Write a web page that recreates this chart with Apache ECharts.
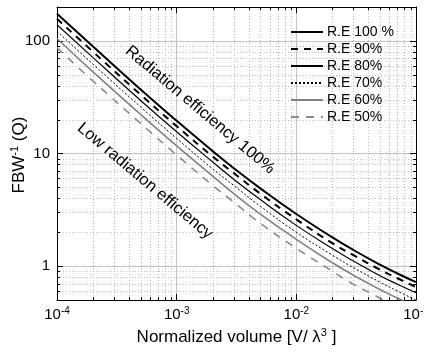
<!DOCTYPE html>
<html>
<head>
<meta charset="utf-8">
<script src="https://cdn.jsdelivr.net/npm/echarts@6/dist/echarts.min.js"></script>
<style>
  html, body { margin: 0; padding: 0; background: #fff; }
  #main { width: 424px; height: 354px; }
</style>
</head>
<body>
<div id="main"></div>
<script>
// normalized volume V/lambda^3
var volume = [1e-4, 2e-4, 5e-4, 1e-3, 2e-3, 3e-3, 5e-3, 1e-2, 2e-2, 3e-2, 5e-2, 7e-2, 1e-1];
// FBW^-1 (Q) per radiation efficiency
var re100 = [174, 89, 37, 19.5, 10.5, 7.4, 4.9, 2.9, 1.8, 1.39, 1.03, 0.86, 0.72];
var re90 = [157, 80, 33.3, 17.5, 9.4, 6.7, 4.4, 2.6, 1.6, 1.25, 0.93, 0.78, 0.65];
var re80 = [139, 71, 29.6, 15.6, 8.4, 5.9, 3.9, 2.3, 1.43, 1.11, 0.82, 0.69, 0.58];
var re70 = [122, 62, 25.9, 13.6, 7.3, 5.2, 3.4, 2.0, 1.25, 0.97, 0.72, 0.60, 0.50];
var re60 = [105, 53, 22.2, 11.7, 6.3, 4.4, 2.9, 1.73, 1.07, 0.83, 0.62, 0.52, 0.43];
var re50 = [87, 44, 18.5, 9.7, 5.2, 3.7, 2.4, 1.44, 0.9, 0.69, 0.52, 0.43, 0.36];
var names = ['R.E 100 %', 'R.E 90%', 'R.E 80%', 'R.E 70%', 'R.E 60%', 'R.E 50%'];

// axis range + minor grid values
var xMin = 1e-4, xMax = 1e-1;
var yMin = 0.5, yMax = 200;
var xMinor = [2e-4, 3e-4, 4e-4, 5e-4, 6e-4, 7e-4, 8e-4, 9e-4,
              2e-3, 3e-3, 4e-3, 5e-3, 6e-3, 7e-3, 8e-3, 9e-3,
              2e-2, 3e-2, 4e-2, 5e-2, 6e-2, 7e-2, 8e-2, 9e-2];
var yMinor = [0.6, 0.7, 0.8, 0.9, 2, 3, 4, 5, 6, 7, 8, 9,
              20, 30, 40, 50, 60, 70, 80, 90];

var FONT = '"Liberation Sans", Arial, sans-serif';

function pairs(ys) {
    return volume.map(function (v, i) { return [v, ys[i]]; });
}

function isDecade(v) {
    var e = Math.log10(v);
    return Math.abs(e - Math.round(e)) < 1e-6;
}

// dotted minor grid + small inner ticks
function minorXItem(params, api) {
    var cs = params.coordSys;
    var x = Math.round(api.coord([api.value(0), yMin])[0]) + 0.5;
    var top = cs.y, bot = cs.y + cs.height;
    return {
        type: 'group',
        children: [
            { type: 'line', shape: { x1: x, y1: top, x2: x, y2: bot }, style: { stroke: '#bdbdbd', lineWidth: 1, lineDash: [1, 2] } },
            { type: 'line', shape: { x1: x, y1: bot, x2: x, y2: bot - 3 }, style: { stroke: '#000', lineWidth: 1 } },
            { type: 'line', shape: { x1: x, y1: top, x2: x, y2: top + 3 }, style: { stroke: '#000', lineWidth: 1 } }
        ]
    };
}
function minorYItem(params, api) {
    var cs = params.coordSys;
    var y = Math.round(api.coord([xMin, api.value(1)])[1]) + 0.5;
    var l = cs.x, r = cs.x + cs.width;
    return {
        type: 'group',
        children: [
            { type: 'line', shape: { x1: l, y1: y, x2: r, y2: y }, style: { stroke: '#bdbdbd', lineWidth: 1, lineDash: [1, 2] } },
            { type: 'line', shape: { x1: l, y1: y, x2: l + 3, y2: y }, style: { stroke: '#000', lineWidth: 1 } },
            { type: 'line', shape: { x1: r, y1: y, x2: r - 3, y2: y }, style: { stroke: '#000', lineWidth: 1 } }
        ]
    };
}

var supRich = {
    b: { fontSize: 17, fontFamily: FONT, color: '#000' },
    s: { fontSize: 11, fontFamily: FONT, color: '#000', verticalAlign: 'top', padding: [0, 0, 8, 0] }
};

var myChart = echarts.init(document.getElementById('main'));
var option = {
    animation: false,
    backgroundColor: '#fff',
    textStyle: { fontFamily: FONT },
    grid: { left: 57, right: 8, top: 7, bottom: 54, containLabel: false, outerBoundsMode: 'none' },
    legend: {
        left: 290,
        top: 25,
        padding: 0,
        orient: 'vertical',
        itemWidth: 32,
        itemHeight: 14,
        itemGap: 3,
        data: names,
        itemStyle: { color: 'rgba(0,0,0,0)', borderWidth: 0, opacity: 0 },
        textStyle: { fontSize: 14, color: '#000', fontFamily: FONT, padding: [0, 0, 0, -1] }
    },
    xAxis: [{
        type: 'log',
        logBase: 10,
        min: xMin,
        max: xMax,
        axisLine: { lineStyle: { color: '#000', width: 1 } },
        axisTick: { inside: true, length: 6, lineStyle: { color: '#000' } },
        splitLine: { show: true, lineStyle: { color: '#c4c4c4', width: 1 } },
        axisLabel: {
            margin: 6,
            color: '#000',
            formatter: function (v) {
                if (!isDecade(v)) return '';
                return '{b|10}{s|' + Math.round(Math.log10(v)) + '}';
            },
            rich: {
                b: { fontSize: 15, fontFamily: FONT, color: '#000' },
                s: { fontSize: 10, fontFamily: FONT, color: '#000', verticalAlign: 'top', padding: [0, 0, 8, 0] }
            }
        },
        name: '{b|Normalized volume [V/ λ}{s|3}{b| ]}',
        nameLocation: 'middle',
        nameGap: 24,
        nameTextStyle: { rich: supRich }
    }, {
        type: 'log',
        logBase: 10,
        min: xMin,
        max: xMax,
        position: 'top',
        axisLine: { lineStyle: { color: '#000', width: 1 } },
        axisTick: { inside: true, length: 6, lineStyle: { color: '#000' } },
        axisLabel: { show: false },
        splitLine: { show: false }
    }],
    yAxis: [{
        type: 'log',
        logBase: 10,
        min: yMin,
        max: yMax,
        axisLine: { show: true, lineStyle: { color: '#000', width: 1 } },
        axisTick: { show: true, inside: true, length: 6, lineStyle: { color: '#000' } },
        splitLine: { show: true, lineStyle: { color: '#c4c4c4', width: 1 } },
        axisLabel: {
            margin: 7,
            fontSize: 15,
            color: '#000',
            formatter: function (v) {
                if (!isDecade(v)) return '';
                return String(Math.round(v));
            }
        }
    }, {
        type: 'log',
        logBase: 10,
        min: yMin,
        max: yMax,
        position: 'right',
        axisLine: { show: true, lineStyle: { color: '#000', width: 1 } },
        axisTick: { show: true, inside: true, length: 6, lineStyle: { color: '#000' } },
        axisLabel: { show: false },
        splitLine: { show: false }
    }],
    graphic: [{
        // y axis title
        type: 'text',
        x: 19, y: 155,
        rotation: Math.PI / 2,
        style: { text: '{b|FBW}{s|-1}{b| (Q)}', rich: supRich, align: 'center', verticalAlign: 'middle' },
        z: 10
    }, {
        type: 'text',
        x: 200, y: 110,
        rotation: -40 * Math.PI / 180,
        style: { text: 'Radiation efficiency 100%', font: '16.5px ' + FONT, fill: '#000', textAlign: 'center', textVerticalAlign: 'middle' },
        z: 10
    }, {
        type: 'text',
        x: 145, y: 181,
        rotation: -40 * Math.PI / 180,
        style: { text: 'Low radiation efficiency', font: '16.5px ' + FONT, fill: '#000', textAlign: 'center', textVerticalAlign: 'middle' },
        z: 10
    }],
    series: [
        { type: 'custom', name: 'minorX', renderItem: minorXItem, data: xMinor.map(function (v) { return [v, yMin]; }), silent: true, z: 1 },
        { type: 'custom', name: 'minorY', renderItem: minorYItem, data: yMinor.map(function (v) { return [xMin, v]; }), silent: true, z: 1 },
        { name: names[0], type: 'line', data: pairs(re100), symbol: 'none', smooth: true, clip: true, z: 5,
          lineStyle: { color: '#000', width: 2, type: 'solid' }, itemStyle: { color: '#000' } },
        { name: names[1], type: 'line', data: pairs(re90), symbol: 'none', smooth: true, clip: true, z: 5,
          lineStyle: { color: '#000', width: 2, type: [7, 6] }, itemStyle: { color: '#000' } },
        { name: names[2], type: 'line', data: pairs(re80), symbol: 'none', smooth: true, clip: true, z: 5,
          lineStyle: { color: '#000', width: 1.2, type: 'solid' }, itemStyle: { color: '#000' } },
        { name: names[3], type: 'line', data: pairs(re70), symbol: 'none', smooth: true, clip: true, z: 5,
          lineStyle: { color: '#000', width: 1, type: [2, 2] }, itemStyle: { color: '#000' } },
        { name: names[4], type: 'line', data: pairs(re60), symbol: 'none', smooth: true, clip: true, z: 5,
          lineStyle: { color: '#808080', width: 1.6, type: 'solid' }, itemStyle: { color: '#808080' } },
        { name: names[5], type: 'line', data: pairs(re50), symbol: 'none', smooth: true, clip: true, z: 5,
          lineStyle: { color: '#8c8c8c', width: 1.6, type: [8, 7] }, itemStyle: { color: '#8c8c8c' } }
    ]
};
myChart.setOption(option);
</script>
</body>
</html>
